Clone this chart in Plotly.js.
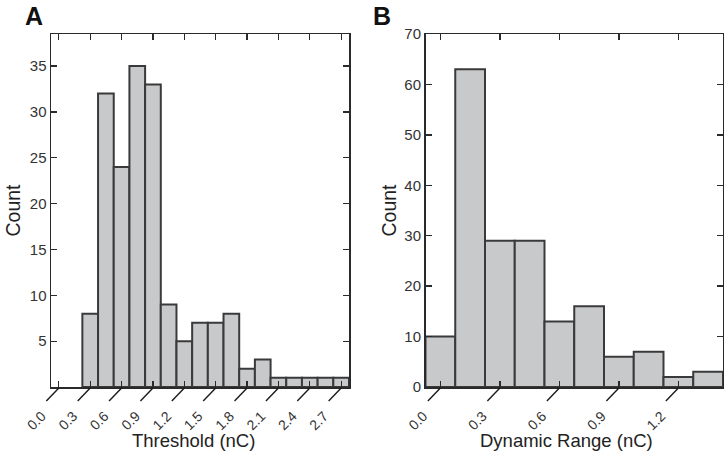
<!DOCTYPE html>
<html>
<head>
<meta charset="utf-8">
<script src="https://cdn.plot.ly/plotly-3.0.1.min.js"></script>
<style>html,body{margin:0;padding:0;background:#fff}#chart{width:724px;height:451px}</style>
</head>
<body>
<div id="chart"></div>
<script>
// Panel A: Threshold histogram (bin centers in nC, counts)
const thresholdBins = [0.3, 0.45, 0.6, 0.75, 0.9, 1.05, 1.2, 1.35, 1.5, 1.65, 1.8, 1.95, 2.1, 2.25, 2.4, 2.55, 2.7];
const thresholdCounts = [8, 32, 24, 35, 33, 9, 5, 7, 7, 8, 2, 3, 1, 1, 1, 1, 1];
const thresholdTicks = [0, 0.3, 0.6, 0.9, 1.2, 1.5, 1.8, 2.1, 2.4, 2.7];
const thresholdTickText = ['0.0', '0.3', '0.6', '0.9', '1.2', '1.5', '1.8', '2.1', '2.4', '2.7'];
const countTicksA = [5, 10, 15, 20, 25, 30, 35];

// Panel B: Dynamic range histogram
const rangeBins = [0, 0.15, 0.3, 0.45, 0.6, 0.75, 0.9, 1.05, 1.2, 1.35];
const rangeCounts = [10, 63, 29, 29, 13, 16, 6, 7, 2, 3];
const rangeTicks = [0, 0.3, 0.6, 0.9, 1.2];
const rangeTickText = ['0.0', '0.3', '0.6', '0.9', '1.2'];
const countTicksB = [0, 10, 20, 30, 40, 50, 60, 70];

const binWidth = 0.15;
const FONT = 'Liberation Sans, Arial, Helvetica, sans-serif';
const barStyle = {color: '#c8c9cb', line: {color: '#3a3a3a', width: 2}};

const traces = [
  {type: 'bar', x: thresholdBins, y: thresholdCounts, width: binWidth, marker: barStyle, xaxis: 'x', yaxis: 'y', hoverinfo: 'x+y'},
  {type: 'bar', x: rangeBins, y: rangeCounts, width: binWidth, marker: barStyle, xaxis: 'x2', yaxis: 'y2', hoverinfo: 'x+y'}
];

const W = 724, H = 451;
const xDomA = [51 / W, 349 / W], xDomB = [425.5 / W, 723 / W];
const xRangeA = [-0.075, 2.775], xRangeB = [-0.075, 1.425];
const yDomain = [1 - 387 / H, 1 - 34 / H];

const axisCommon = {
  showline: true, linecolor: '#2a2a2a', linewidth: 1.5, mirror: 'ticks',
  ticks: 'inside', ticklen: 6, tickwidth: 1.3, tickcolor: '#2a2a2a',
  showgrid: false, zeroline: false,
  tickfont: {family: FONT, size: 15, color: '#333'},
  fixedrange: true
};
const xTickFont = {family: FONT, size: 14, color: '#333'};
const xTitleFont = {family: FONT, size: 18.5, color: '#222'};
const yTitleFont = {family: FONT, size: 19.5, color: '#222'};

// thin diagonal leader lines from each x tick down-left to its rotated label;
// the tick value is mapped onto the axis domain with the same linear scale as the axis
function leaderShapes(ticks, range, dom) {
  const toPaper = t => dom[0] + (t - range[0]) / (range[1] - range[0]) * (dom[1] - dom[0]);
  return ticks.map(t => ({
    type: 'line', xref: 'paper', yref: 'paper', layer: 'above',
    x0: toPaper(t), x1: toPaper(t) - 12.5 / W,
    y0: yDomain[0] - 1 / H, y1: yDomain[0] - 14 / H,
    line: {color: '#1a1a1a', width: 1.4}
  }));
}

const layout = {
  width: W, height: H,
  margin: {l: 0, r: 0, t: 0, b: 0},
  paper_bgcolor: '#fff', plot_bgcolor: '#fff',
  showlegend: false, bargap: 0,
  font: {family: FONT, color: '#222'},
  xaxis: Object.assign({}, axisCommon, {
    domain: xDomA, anchor: 'y', range: xRangeA,
    tickvals: thresholdTicks, ticktext: thresholdTickText, tickfont: xTickFont,
    tickangle: -45, ticklabelstandoff: 14, ticklabelshift: -17
  }),
  yaxis: Object.assign({}, axisCommon, {
    domain: yDomain, anchor: 'x', range: [0, 38.5], tickvals: countTicksA
  }),
  xaxis2: Object.assign({}, axisCommon, {
    domain: xDomB, anchor: 'y2', range: xRangeB,
    tickvals: rangeTicks, ticktext: rangeTickText, tickfont: xTickFont,
    tickangle: -45, ticklabelstandoff: 14, ticklabelshift: -17
  }),
  yaxis2: Object.assign({}, axisCommon, {
    domain: yDomain, anchor: 'x2', range: [0, 70], tickvals: countTicksB
  }),
  shapes: leaderShapes(thresholdTicks, xRangeA, xDomA).concat(leaderShapes(rangeTicks, xRangeB, xDomB)),
  annotations: [
    {text: '<b>A</b>', xref: 'paper', yref: 'paper', x: 33.5 / W, y: 1 - 16 / H, xanchor: 'center', yanchor: 'middle', showarrow: false, font: {family: FONT, size: 25, color: '#111'}},
    {text: '<b>B</b>', xref: 'paper', yref: 'paper', x: 382 / W, y: 1 - 16 / H, xanchor: 'center', yanchor: 'middle', showarrow: false, font: {family: FONT, size: 25, color: '#111'}},
    // axis titles
    {text: 'Threshold (nC)', xref: 'paper', yref: 'paper', x: 193 / W, y: 1 - 440 / H, xanchor: 'center', yanchor: 'middle', showarrow: false, font: xTitleFont},
    {text: 'Dynamic Range (nC)', xref: 'paper', yref: 'paper', x: 566 / W, y: 1 - 440 / H, xanchor: 'center', yanchor: 'middle', showarrow: false, font: xTitleFont},
    {text: 'Count', textangle: -90, xref: 'paper', yref: 'paper', x: 12 / W, y: 1 - 210.5 / H, xanchor: 'center', yanchor: 'middle', showarrow: false, font: yTitleFont},
    {text: 'Count', textangle: -90, xref: 'paper', yref: 'paper', x: 388 / W, y: 1 - 210.5 / H, xanchor: 'center', yanchor: 'middle', showarrow: false, font: yTitleFont}
  ]
};

Plotly.newPlot('chart', traces, layout, {staticPlot: true, displayModeBar: false});
</script>
</body>
</html>
